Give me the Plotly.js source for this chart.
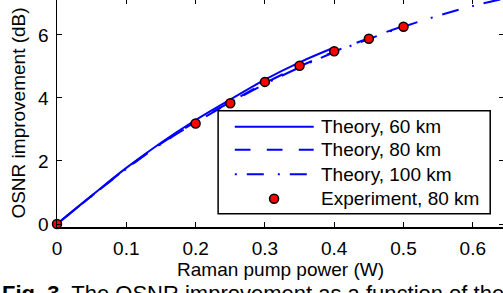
<!DOCTYPE html>
<html>
<head>
<meta charset="utf-8">
<script src="https://cdn.plot.ly/plotly-3.0.1.min.js"></script>
<style>
html,body{margin:0;padding:0;overflow:hidden;background:#fff;width:503px;height:293px;}
#chart{position:absolute;left:0;top:-4px;width:520px;height:297px;}
</style>
</head>
<body>
<div id="chart"></div>
<script>
// Data
var theory60X = [0, 0.05, 0.1, 0.15, 0.2, 0.25, 0.3, 0.35, 0.4];
var theory60Y = [0, 0.90, 1.78, 2.58, 3.30, 3.95, 4.58, 5.13, 5.60];

var theory80X = [0, 0.05, 0.1, 0.15, 0.2, 0.25, 0.3, 0.35, 0.4, 0.45, 0.5];
var theory80Y = [0, 0.89, 1.76, 2.55, 3.24, 3.87, 4.47, 5.00, 5.47, 5.90, 6.28];

var theory100X = [0, 0.05, 0.1, 0.15, 0.2, 0.25, 0.3, 0.35, 0.4, 0.45, 0.5, 0.55, 0.6, 0.65];
var theory100Y = [0, 0.89, 1.75, 2.54, 3.22, 3.85, 4.44, 4.97, 5.45, 5.87, 6.26, 6.61, 6.92, 7.18];

var expX = [0, 0.2, 0.25, 0.3, 0.35, 0.4, 0.45, 0.5];
var expY = [0, 3.19, 3.83, 4.51, 5.02, 5.48, 5.88, 6.26];

var seriesNames = ['Theory, 60 km', 'Theory, 80 km', 'Theory, 100 km', 'Experiment, 80 km'];
var xTicks = [0, 0.1, 0.2, 0.3, 0.4, 0.5, 0.6];
var xTickLabels = ['0', '0.1', '0.2', '0.3', '0.4', '0.5', '0.6'];
var yTicks = [0, 2, 4, 6];
var yTickLabels = ['0', '2', '4', '6'];

var FONT = 'Liberation Sans, Arial, Helvetica, sans-serif';
var BLUE = '#0000ff';
var FS = 19;

var styles = [
  {mode: 'lines', line: {color: BLUE, width: 2, shape: 'spline'}},
  {mode: 'lines', line: {color: BLUE, width: 2, dash: '15.7px,16.3px', shape: 'spline'}},
  {mode: 'lines', line: {color: BLUE, width: 2, dash: '2px,10px,17px,14px', shape: 'spline'}},
  {mode: 'markers', marker: {color: '#ff0000', size: 9, line: {color: '#000', width: 1.5}}, cliponaxis: false}
];
var xs = [theory60X, theory80X, theory100X, expX];
var ys = [theory60Y, theory80Y, theory100Y, expY];

var traces = seriesNames.map(function (n, i) {
  return Object.assign({x: xs[i], y: ys[i], name: n, showlegend: false}, styles[i]);
});

// plot-area geometry (in window pixels) used to place the hand-made legend box
var PL = 57, PR = 504.5, PT = -1, PB = 227;
function px(wx) { return (wx - PL) / (PR - PL); }
function py(wy) { return (PB - wy) / (PB - PT); }

var legendRows = [126.7, 149.7, 174.2, 198.7];
var shapes = [{
  type: 'rect', xref: 'paper', yref: 'paper',
  x0: px(218.3), x1: px(490.7), y0: py(213.7), y1: py(110.7),
  line: {color: '#000', width: 1.5}, fillcolor: '#fff', layer: 'above'
}];
var annotations = [];
seriesNames.forEach(function (n, i) {
  var yy = py(legendRows[i]);
  if (i < 3) {
    shapes.push({type: 'line', xref: 'paper', yref: 'paper', x0: px(235), x1: px(314), y0: yy, y1: yy,
      line: {color: BLUE, width: 2, dash: styles[i].line.dash || 'solid'}, layer: 'above'});
  } else {
    shapes.push({type: 'circle', xref: 'paper', yref: 'paper', xsizemode: 'pixel', ysizemode: 'pixel',
      xanchor: px(274.3), yanchor: yy, x0: -4.5, x1: 4.5, y0: -4.5, y1: 4.5,
      fillcolor: '#ff0000', line: {color: '#000', width: 1.5}, layer: 'above'});
  }
  annotations.push({xref: 'paper', yref: 'paper', x: px(319), y: yy, xanchor: 'left', yanchor: 'middle',
    text: n, showarrow: false, font: {family: FONT, size: FS, color: '#000'}});
});

annotations.push({
  xref: 'paper', yref: 'paper', x: px(0), y: py(279), xanchor: 'left', yanchor: 'top',
  text: '<b>Fig. 3.</b> The OSNR improvement as a function of the pump power',
  showarrow: false, font: {family: FONT, size: 22, color: '#000'}, align: 'left'
});

var axisCommon = {
  showgrid: false, zeroline: false, showline: true, linecolor: '#000', linewidth: 1.5,
  mirror: 'ticks', ticks: 'inside', ticklen: 5, tickwidth: 1, tickcolor: '#000',
  tickfont: {family: FONT, size: FS, color: '#000'}
};

var layout = {
  width: 520, height: 297,
  margin: {l: 57, r: 15.5, t: 3, b: 66},
  paper_bgcolor: '#fff', plot_bgcolor: '#fff',
  font: {family: FONT, size: FS, color: '#000'},
  showlegend: false,
  xaxis: Object.assign({}, axisCommon, {
    range: [0, 0.645], tickvals: xTicks, ticktext: xTickLabels, ticklabelstandoff: 4,
    title: {text: 'Raman pump power (W)', font: {family: FONT, size: FS, color: '#000'}, standoff: 3}
  }),
  yaxis: Object.assign({}, axisCommon, {
    range: [-0.095, 7.14], tickvals: yTicks, ticktext: yTickLabels, ticklabelstandoff: 3,
    title: {text: 'OSNR improvement (dB)', font: {family: FONT, size: FS, color: '#000'}, standoff: 7}
  }),
  shapes: shapes,
  annotations: annotations
};

Plotly.newPlot('chart', traces, layout, {displayModeBar: false, staticPlot: true});
</script>
</body>
</html>
